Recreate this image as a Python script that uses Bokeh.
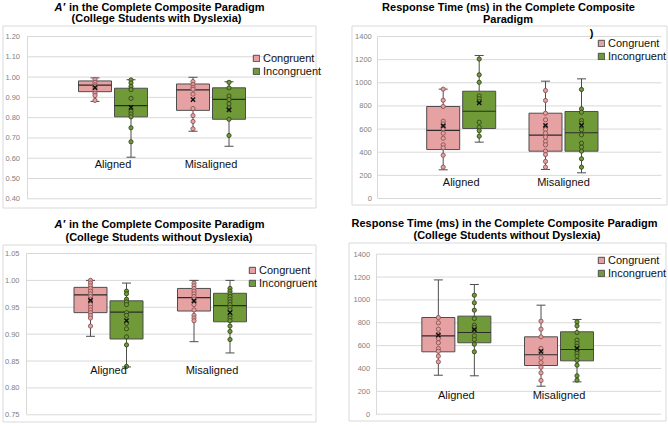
from bokeh.plotting import figure
from bokeh.models import (LinearAxis, FixedTicker, Label, Legend, LegendItem,
                          ColumnDataSource, Range1d, NumeralTickFormatter)
from bokeh.layouts import column, row
from bokeh.embed import file_html
from bokeh.resources import INLINE

# ---------------- data ----------------
groups = ["Aligned", "Misaligned"]
conditions = ["Congruent", "Incongruent"]

# Panel 1: A' (college students with dyslexia)   order: [Aligned, Misaligned]
p1_ticks = [0.40, 0.50, 0.60, 0.70, 0.80, 0.90, 1.00, 1.10, 1.20]
p1_cong_low = [0.88, 0.733]
p1_cong_q1 = [0.928, 0.836]
p1_cong_med = [0.96, 0.937]
p1_cong_q3 = [0.981, 0.966]
p1_cong_high = [0.996, 0.999]
p1_cong_mean = [0.948, 0.889]
p1_cong_points = [[0.988, 0.974, 0.962, 0.955, 0.946, 0.932, 0.92, 0.909, 0.885],
                  [0.978, 0.963, 0.95, 0.94, 0.916, 0.845, 0.81, 0.781, 0.745]]
p1_inc_low = [0.605, 0.659]
p1_inc_q1 = [0.804, 0.792]
p1_inc_med = [0.859, 0.89]
p1_inc_q3 = [0.945, 0.947]
p1_inc_high = [0.987, 0.977]
p1_inc_mean = [0.851, 0.838]
p1_inc_points = [[0.986, 0.971, 0.954, 0.938, 0.895, 0.831, 0.818, 0.804, 0.75, 0.681],
                 [0.974, 0.947, 0.907, 0.889, 0.868, 0.848, 0.792, 0.712]]

# Panel 2: Response time (college students with dyslexia)
p2_ticks = [0, 200, 400, 600, 800, 1000, 1200, 1400]
p2_cong_low = [248, 251]
p2_cong_q1 = [423, 409]
p2_cong_med = [588, 547]
p2_cong_q3 = [795, 737]
p2_cong_high = [945, 1014]
p2_cong_mean = [628, 632]
p2_cong_points = [[945, 849, 795, 668, 645, 622, 602, 564, 521, 464, 438, 374, 271],
                  [933, 847, 737, 680, 620, 596, 565, 530, 493, 464, 410, 380, 320, 271]]
p2_inc_low = [487, 222]
p2_inc_q1 = [605, 409]
p2_inc_med = [754, 568]
p2_inc_q3 = [927, 752]
p2_inc_high = [1236, 1034]
p2_inc_mean = [827, 631]
p2_inc_points = [[1205, 1069, 1004, 887, 862, 840, 659, 616, 586, 538],
                 [942, 775, 746, 674, 651, 594, 550, 478, 443, 409, 343, 271]]

# Panel 3: A' (college students without dyslexia)
p3_ticks = [0.75, 0.80, 0.85, 0.90, 0.95, 1.00, 1.05]
p3_cong_low = [0.896, 0.886]
p3_cong_q1 = [0.940, 0.943]
p3_cong_med = [0.973, 0.968]
p3_cong_q3 = [0.987, 0.985]
p3_cong_high = [1.0, 1.0]
p3_cong_mean = [0.963, 0.962]
p3_cong_points = [[1.0, 0.995, 0.99, 0.985, 0.98, 0.975, 0.97, 0.965, 0.96, 0.955, 0.95, 0.945, 0.94, 0.935, 0.93, 0.915],
                  [0.995, 0.99, 0.985, 0.98, 0.975, 0.97, 0.965, 0.96, 0.955, 0.945, 0.935, 0.93, 0.925]]
p3_inc_low = [0.839, 0.865]
p3_inc_q1 = [0.891, 0.923]
p3_inc_med = [0.941, 0.953]
p3_inc_q3 = [0.962, 0.976]
p3_inc_high = [0.995, 1.0]
p3_inc_mean = [0.925, 0.94]
p3_inc_points = [[0.98, 0.975, 0.965, 0.96, 0.955, 0.94, 0.935, 0.92, 0.91, 0.895, 0.88, 0.84],
                 [0.985, 0.98, 0.975, 0.97, 0.965, 0.96, 0.955, 0.95, 0.945, 0.935, 0.93, 0.925, 0.915, 0.905, 0.89]]

# Panel 4: Response time (college students without dyslexia)
p4_ticks = [0, 200, 400, 600, 800, 1000, 1200, 1400]
p4_cong_low = [341, 245]
p4_cong_q1 = [546, 426]
p4_cong_med = [686, 520]
p4_cong_q3 = [846, 677]
p4_cong_high = [1175, 954]
p4_cong_mean = [691, 549]
p4_cong_points = [[846, 800, 744, 700, 662, 625, 575, 551, 508, 458],
                  [814, 744, 677, 575, 546, 493, 452, 411, 362, 295]]
p4_inc_low = [336, 283]
p4_inc_q1 = [625, 467]
p4_inc_med = [715, 566]
p4_inc_q3 = [858, 721]
p4_inc_high = [1135, 829]
p4_inc_mean = [741, 575]
p4_inc_points = [[1041, 975, 910, 837, 779, 759, 730, 686, 654, 612, 546],
                 [808, 773, 715, 648, 619, 595, 560, 531, 508, 470, 429, 336, 298]]

# ---------------- style ----------------
PINK = "#E6A1A3"
GREEN = "#6F9A37"
PINK_PT = "#8A5353"
GREEN_PT = "#34461A"
EDGE = "#4D4D4D"
GRID = "#D9D9D9"
INK = "#111111"
FONT = "Liberation Sans"


def series(low, q1, med, q3, high, mean, points):
    return dict(low=low, q1=q1, med=med, q3=q3, high=high, mean=mean, points=points)


def build(spec, cong, inc, ticks, fmt, titles):
    W, H = spec["W"], spec["H"]
    fl, fr, ft, fb = spec["frame"]
    (va, pya), (vb, pyb) = spec["ycal"]
    ppy = (pya - pyb) / (vb - va)

    def yv(py):
        return va + (pya - py) / ppy

    cx0, cx1 = spec["centers"]
    ppx = cx1 - cx0

    def xv(px):
        return (px - cx0) / ppx

    p = figure(width=W, height=H,
               x_range=Range1d(xv(0), xv(W)), y_range=Range1d(yv(H), yv(0)),
               min_border_left=0, min_border_right=0,
               min_border_top=0, min_border_bottom=0,
               x_axis_type=None, y_axis_type=None,
               toolbar_location=None, output_backend="svg")
    p.outline_line_color = None
    p.background_fill_color = "white"
    p.border_fill_color = "white"

    # light grey chart border
    p.quad(left=[xv(fl + 0.5)], right=[xv(fr - 0.5)], top=[yv(ft + 0.5)], bottom=[yv(fb - 0.5)],
           fill_color=None, line_color=GRID, line_width=1)

    gx0, gx1 = xv(spec["grid_x"][0]), xv(spec["grid_x"][1])
    p.segment(x0=[gx0] * len(ticks), y0=ticks, x1=[gx1] * len(ticks), y1=ticks,
              line_color=GRID, line_width=1)

    yax = LinearAxis(fixed_location=gx0, ticker=FixedTicker(ticks=ticks),
                     formatter=NumeralTickFormatter(format=fmt),
                     bounds=(ticks[0], ticks[-1]),
                     axis_line_color=GRID, major_tick_line_color=None,
                     minor_tick_line_color=None, major_tick_in=0, major_tick_out=0,
                     major_label_standoff=spec["ystand"],
                     major_label_text_font_size="7.5px",
                     major_label_text_color="#7F7F7F",
                     major_label_text_font=FONT)
    p.add_layout(yax, "left")

    xax = LinearAxis(fixed_location=yv(spec["cat_py"]), ticker=FixedTicker(ticks=[0, 1]),
                     major_label_overrides={0: groups[0], 1: groups[1]},
                     axis_line_color=None, major_tick_line_color=None,
                     minor_tick_line_color=None, major_tick_in=0, major_tick_out=0,
                     major_label_standoff=0, major_label_text_font_size="11px",
                     major_label_text_color=INK, major_label_text_font=FONT)
    p.add_layout(xax, "below")

    half = 16.5 / ppx
    off = 18 / ppx
    cap = 4.5 / ppx
    items = []
    for s, sign, color, ptc, name in [(cong, -1, PINK, PINK_PT, conditions[0]),
                                      (inc, 1, GREEN, GREEN_PT, conditions[1])]:
        xs = [g + sign * off for g in range(len(groups))]
        src = ColumnDataSource(dict(
            x=xs, left=[x - half for x in xs], right=[x + half for x in xs],
            cl=[x - cap for x in xs], cr=[x + cap for x in xs],
            low=s["low"], q1=s["q1"], med=s["med"], q3=s["q3"], high=s["high"],
            mean=s["mean"]))
        p.segment(x0="x", y0="low", x1="x", y1="q1", source=src, line_color=EDGE, line_width=1)
        p.segment(x0="x", y0="q3", x1="x", y1="high", source=src, line_color=EDGE, line_width=1)
        p.segment(x0="cl", y0="low", x1="cr", y1="low", source=src, line_color=EDGE, line_width=1)
        p.segment(x0="cl", y0="high", x1="cr", y1="high", source=src, line_color=EDGE, line_width=1)
        r = p.quad(left="left", right="right", bottom="q1", top="q3", source=src,
                   fill_color=color, line_color=EDGE, line_width=1)
        p.segment(x0="left", y0="med", x1="right", y1="med", source=src,
                  line_color="#2B2B2B", line_width=1.2)
        px = [xs[i] for i in range(len(groups)) for _ in s["points"][i]]
        py = [v for i in range(len(groups)) for v in s["points"][i]]
        p.scatter(px, py, marker="circle", size=4.2, fill_color=color,
                  line_color=ptc, line_width=0.9)
        p.scatter(xs, s["mean"], marker="x", size=6, line_color=INK, line_width=1.4)
        items.append(LegendItem(label=name, renderers=[r]))

    legend = Legend(items=items, location=spec["legend_loc"], orientation="vertical",
                    glyph_width=8, glyph_height=8, label_standoff=3, label_height=13,
                    spacing=0, padding=0, margin=0, border_line_color=None,
                    background_fill_alpha=0, label_text_font_size="11px",
                    label_text_font=FONT, label_text_color=INK)
    p.add_layout(legend)

    for text, tx, ty, align, style in titles:
        p.add_layout(Label(x=xv(tx), y=yv(ty), text=text, text_align=align,
                           text_baseline="middle", text_font=FONT,
                           text_font_size="11px", text_font_style=style,
                           text_color="#000000"))
    return p


# all pixel geometry is local to each 334x213 panel
spec1 = dict(W=334, H=213, frame=(2, 316, 25, 208), ycal=((0.40, 198.3), (1.20, 36.0)),
             centers=(112.5, 210.5), grid_x=(26.5, 312), ystand=7, cat_py=157,
             legend_loc=(252, 136))
spec2 = dict(W=334, H=213, frame=(17, 333, 25, 205), ycal=((0, 198.0), (1400, 36.0)),
             centers=(126.7, 229.0), grid_x=(43.3, 327), ystand=6, cat_py=175,
             legend_loc=(263, 151))
spec3 = dict(W=334, H=213, frame=(2, 316, 31, 209), ycal=((0.75, 201.3), (1.05, 40.0)),
             centers=(108.0, 211.5), grid_x=(26, 312), ystand=7, cat_py=150,
             legend_loc=(248, 137))
spec4 = dict(W=334, H=213, frame=(14, 332, 29, 208), ycal=((0, 200.7), (1400, 40.7)),
             centers=(121.85, 224.5), grid_x=(41.7, 326.7), ystand=6, cat_py=175.7,
             legend_loc=(263, 147))

title_main = "in the Complete Composite Paradigm"
p1 = build(spec1,
           series(p1_cong_low, p1_cong_q1, p1_cong_med, p1_cong_q3, p1_cong_high, p1_cong_mean, p1_cong_points),
           series(p1_inc_low, p1_inc_q1, p1_inc_med, p1_inc_q3, p1_inc_high, p1_inc_mean, p1_inc_points),
           p1_ticks, "0.00",
           [("A\u2032", 54, 6.2, "left", "bold italic"),
            (title_main, 68.5, 6.2, "left", "bold"),
            ("(College Students with Dyslexia)", 156, 17.5, "center", "bold")])
p2 = build(spec2,
           series(p2_cong_low, p2_cong_q1, p2_cong_med, p2_cong_q3, p2_cong_high, p2_cong_mean, p2_cong_points),
           series(p2_inc_low, p2_inc_q1, p2_inc_med, p2_inc_q3, p2_inc_high, p2_inc_mean, p2_inc_points),
           p2_ticks, "0",
           [("Response Time (ms) in the Complete Composite", 174, 6.3, "center", "bold"),
            ("Paradigm", 173.5, 18.3, "center", "bold"),
            (")", 257, 32, "center", "bold")])
p3 = build(spec3,
           series(p3_cong_low, p3_cong_q1, p3_cong_med, p3_cong_q3, p3_cong_high, p3_cong_mean, p3_cong_points),
           series(p3_inc_low, p3_inc_q1, p3_inc_med, p3_inc_q3, p3_inc_high, p3_inc_mean, p3_inc_points),
           p3_ticks, "0.00",
           [("A\u2032", 54, 10.7, "left", "bold italic"),
            (title_main, 68.5, 10.7, "left", "bold"),
            ("(College Students without Dyslexia)", 158.5, 23.3, "center", "bold")])
p4 = build(spec4,
           series(p4_cong_low, p4_cong_q1, p4_cong_med, p4_cong_q3, p4_cong_high, p4_cong_mean, p4_cong_points),
           series(p4_inc_low, p4_inc_q1, p4_inc_med, p4_inc_q3, p4_inc_high, p4_inc_mean, p4_inc_points),
           p4_ticks, "0",
           [("Response Time (ms) " + title_main, 170, 9.3, "center", "bold"),
            ("(College Students without Dyslexia)", 172.5, 21.7, "center", "bold")])

layout = column(row(p1, p2), row(p3, p4))
layout.styles = {"position": "absolute", "left": "0px", "top": "0px"}

open("out.html", "w").write(file_html(layout, INLINE))
